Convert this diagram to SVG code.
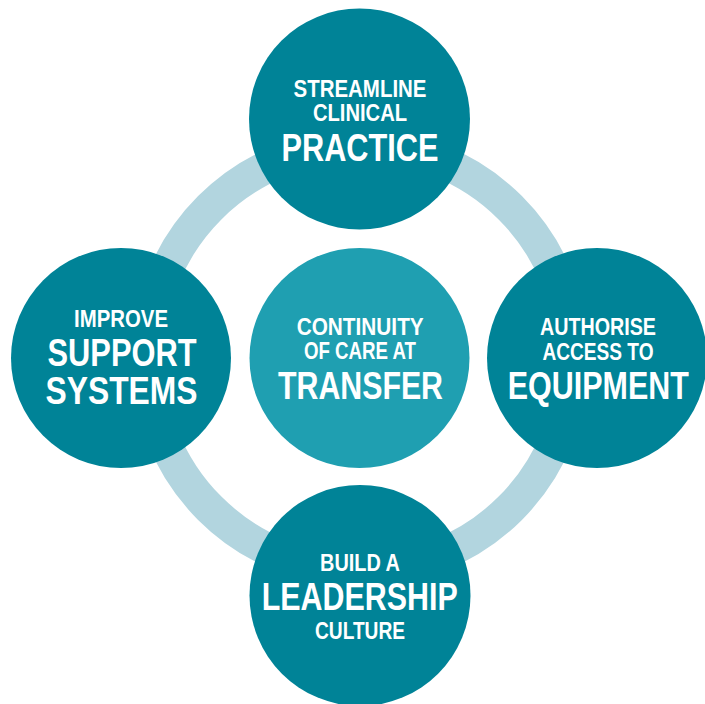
<svg xmlns="http://www.w3.org/2000/svg" width="705" height="704" viewBox="0 0 705 704">
  <style>
    .node { fill: #008397; }
    .hub { fill: #1f9fb1; }
    .ring { fill: none; stroke: #b2d5df; stroke-width: 33; }
    text { font-family: "Liberation Sans Narrow", "Liberation Sans", Arial, sans-serif; font-weight: bold; fill: #ffffff; text-anchor: middle; }
    .s { font-size: 24.5px; }
    .l { font-size: 39px; }
  </style>
  <rect width="705" height="704" fill="#ffffff"/>
  <g id="connectors">
    <circle class="ring" cx="360" cy="358" r="212.5"/>
  </g>
  <g id="node-top">
    <circle class="node" cx="359.5" cy="119" r="110.5"/>
    <text class="s" x="360" y="97" textLength="133" lengthAdjust="spacingAndGlyphs">STREAMLINE</text>
    <text class="s" x="360" y="120.5" textLength="94" lengthAdjust="spacingAndGlyphs">CLINICAL</text>
    <text class="l" x="360" y="161" textLength="157" lengthAdjust="spacingAndGlyphs">PRACTICE</text>
  </g>
  <g id="node-left">
    <circle class="node" cx="121" cy="358" r="110"/>
    <text class="s" x="121" y="327" textLength="94" lengthAdjust="spacingAndGlyphs">IMPROVE</text>
    <text class="l" x="122" y="366" textLength="149" lengthAdjust="spacingAndGlyphs">SUPPORT</text>
    <text class="l" x="121.5" y="404" textLength="152" lengthAdjust="spacingAndGlyphs">SYSTEMS</text>
  </g>
  <g id="node-right">
    <circle class="node" cx="597" cy="358" r="110"/>
    <text class="s" x="598" y="335" textLength="116" lengthAdjust="spacingAndGlyphs">AUTHORISE</text>
    <text class="s" x="598" y="359.5" textLength="111" lengthAdjust="spacingAndGlyphs">ACCESS TO</text>
    <text class="l" x="598.3" y="399" textLength="181" lengthAdjust="spacingAndGlyphs">EQUIPMENT</text>
  </g>
  <g id="node-bottom">
    <circle class="node" cx="360" cy="595.5" r="110.5"/>
    <text class="s" x="360" y="570.5" textLength="80" lengthAdjust="spacingAndGlyphs">BUILD A</text>
    <text class="l" x="359.7" y="610" textLength="196" lengthAdjust="spacingAndGlyphs">LEADERSHIP</text>
    <text class="s" x="360" y="639" textLength="90" lengthAdjust="spacingAndGlyphs">CULTURE</text>
  </g>
  <g id="node-center">
    <circle class="hub" cx="359.5" cy="358" r="110"/>
    <text class="s" x="360.2" y="335" textLength="127" lengthAdjust="spacingAndGlyphs">CONTINUITY</text>
    <text class="s" x="360" y="359" textLength="112" lengthAdjust="spacingAndGlyphs">OF CARE AT</text>
    <text class="l" x="360.5" y="399" textLength="165" lengthAdjust="spacingAndGlyphs">TRANSFER</text>
  </g>
</svg>
